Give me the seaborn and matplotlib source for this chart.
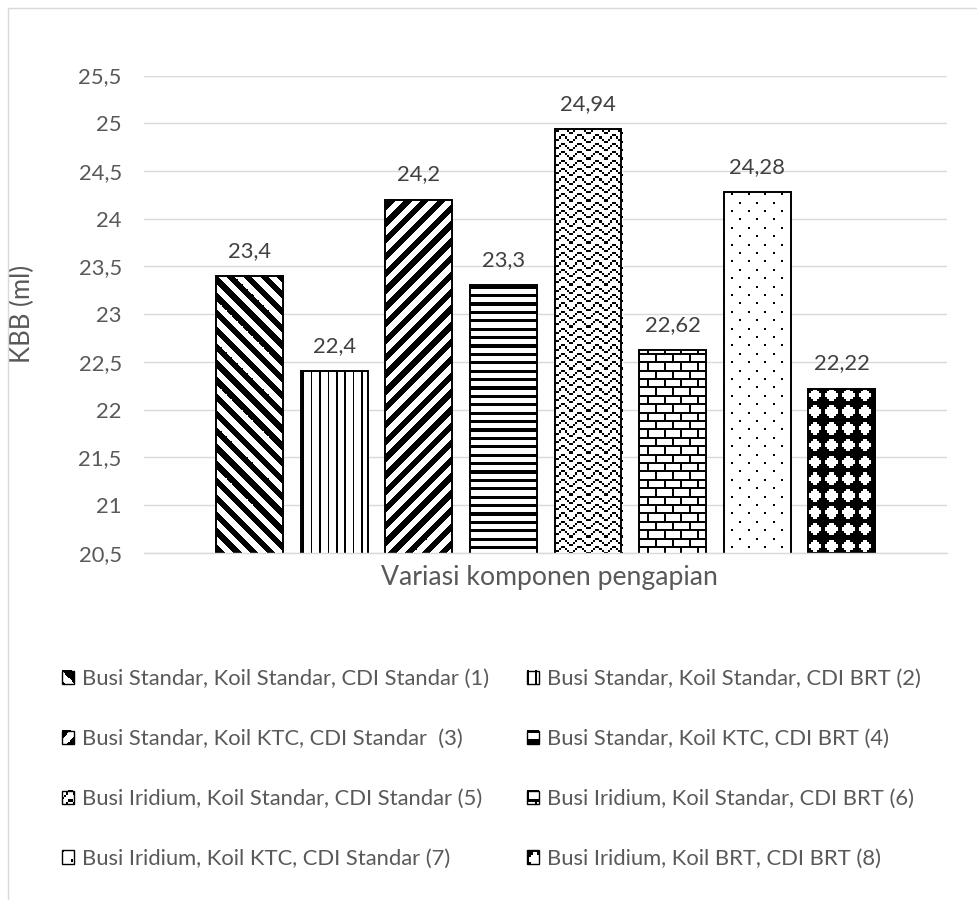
import numpy as np
import pandas as pd
import matplotlib
matplotlib.use("Agg")
import matplotlib.pyplot as plt
import seaborn as sns
from matplotlib.colors import ListedColormap
from matplotlib.patches import Rectangle
from matplotlib.legend_handler import HandlerBase
from matplotlib.image import BboxImage
from matplotlib.transforms import Bbox, TransformedBbox
from matplotlib.ticker import FuncFormatter, FixedLocator

# ---- data -------------------------------------------------------------
labels = [
    "Busi Standar, Koil Standar, CDI Standar (1)",
    "Busi Standar, Koil Standar, CDI BRT (2)",
    "Busi Standar, Koil KTC, CDI Standar  (3)",
    "Busi Standar, Koil KTC, CDI BRT (4)",
    "Busi Iridium, Koil Standar, CDI Standar (5)",
    "Busi Iridium, Koil Standar, CDI BRT (6)",
    "Busi Iridium, Koil KTC, CDI Standar (7)",
    "Busi Iridium, Koil BRT, CDI BRT (8)",
]
kbb = [23.4, 22.4, 24.2, 23.3, 24.94, 22.62, 24.28, 22.22]
y_ticks = [20.5, 21, 21.5, 22, 22.5, 23, 23.5, 24, 24.5, 25, 25.5]
x_title = "Variasi komponen pengapian"
y_title = "KBB (ml)"

# ---- style ------------------------------------------------------------
sns.set_style("white")
plt.rcParams["font.family"] = ["Lato", "DejaVu Sans"]
TEXT = "#595959"
GRID = "#d9d9d9"
FS = 15.8

W, H, DPI = 977, 900, 100
fig = plt.figure(figsize=(W / DPI, H / DPI), dpi=DPI)
ax = fig.add_axes([144 / W, 1 - 552.7 / H, (947 - 144) / W, (552.7 - 75.5) / H])

df = pd.DataFrame({"kombinasi": labels, "kbb": kbb})
sns.barplot(data=df, x="kombinasi", y="kbb", order=labels, width=0.789,
            color="white", saturation=1, edgecolor="black", linewidth=1.4,
            ax=ax)

ax.set_xlim(-1.25, 8.245)
ax.set_ylim(y_ticks[0], y_ticks[-1])
ax.yaxis.set_major_locator(FixedLocator(y_ticks))
ax.yaxis.set_major_formatter(FuncFormatter(lambda v, _: f"{v:g}".replace(".", ",")))
ax.set_xticks([])
ax.grid(axis="y", color=GRID, linewidth=1.0)
ax.set_axisbelow(True)
for side in ["left", "right", "top"]:
    ax.spines[side].set_visible(False)
ax.spines["bottom"].set_color(GRID)
ax.spines["bottom"].set_linewidth(1.0)
ax.tick_params(axis="y", length=0, pad=16, labelsize=FS, labelcolor=TEXT)

ax.set_xlabel(x_title, fontsize=19.2, color=TEXT)
ax.set_ylabel(y_title, fontsize=18.5, color=TEXT)
ax.xaxis.label.set_va("center")
ax.yaxis.label.set_va("center")
ax.xaxis.set_label_coords(0.505, -(577 - 552.7) / (552.7 - 75.5))
ax.yaxis.set_label_coords(-(144 - 22) / (947 - 144), 0.5)

# ---- pattern fills ----------------------------------------------------
CELL = 2.1  # screen pixels per pattern cell


def _tile(rows):
    return np.array([[ch == "1" for ch in r] for r in rows], dtype=bool)


TILES = {
    "zigzag": _tile(["00011000", "00100100", "01000010", "10000001"]),
    "brick": _tile(["11111111", "10000000", "10000000", "10000000",
                    "11111111", "00001000", "00001000", "00001000"]),
    "dots": _tile(["10000000", "00000000", "00000000", "00000000",
                   "00001000", "00000000", "00000000", "00000000"]),
    "diamond": _tile(["11111111", "11100111", "11000011", "10000001",
                      "10000001", "11000011", "11100111", "11111111"]),
}
KINDS = ["down", "vert", "up", "horz", "zigzag", "brick", "dots", "diamond"]
BW = ListedColormap(["white", "black"])


def pattern_mask(kind, u, v):
    if kind == "down":
        return ((u - v) % 8) < 4
    if kind == "up":
        return ((u + v) % 8) < 4
    if kind == "vert":
        return (u % 4) < 0.75
    if kind == "horz":
        return (v % 4) < 1.5
    t = TILES[kind]
    return t[np.floor(v).astype(int) % t.shape[0], np.floor(u).astype(int) % t.shape[1]]


def pixel_pattern(kind, px0, px1, top, bottom):
    """Pattern for a pixel window given in screen coords (y downward)."""
    xs = np.arange(px0, px1) + 0.5
    ys = np.arange(top, bottom) + 0.5
    u = np.broadcast_to(xs[None, :] / CELL, (len(ys), len(xs)))
    v = np.broadcast_to(ys[:, None] / CELL, (len(ys), len(xs)))
    return pattern_mask(kind, u, v).astype(float)


bars = list(ax.containers[0])
inv = ax.transData.inverted()
axbb = ax.get_window_extent()
for patch, kind in zip(bars, KINDS):
    bb = Bbox.intersection(patch.get_window_extent(), axbb)
    px0, px1 = int(np.floor(bb.x0)), int(np.ceil(bb.x1))
    py0, py1 = int(np.floor(bb.y0)), int(np.ceil(bb.y1))
    arr = pixel_pattern(kind, px0, px1, H - py1, H - py0)
    (dx0, dy0), (dx1, dy1) = inv.transform([(px0, py0), (px1, py1)])
    im = ax.imshow(arr, cmap=BW, vmin=0, vmax=1, extent=(dx0, dx1, dy0, dy1),
                   origin="upper", interpolation="nearest", aspect="auto",
                   zorder=1.8)
    im.set_clip_path(patch)
    im.set_clip_box(ax.bbox)
    patch.set_facecolor((1, 1, 1, 0))
    patch.set_zorder(2)

ax.set_xlim(-1.25, 8.245)
ax.set_ylim(y_ticks[0], y_ticks[-1])

ax.bar_label(ax.containers[0], labels=[f"{v:g}".replace(".", ",") for v in kbb],
             padding=11, fontsize=FS, color="#404040")


# ---- legend -----------------------------------------------------------
class PatternSwatch(HandlerBase):
    def __init__(self, kind):
        super().__init__()
        self.kind = kind

    def create_artists(self, legend, orig_handle, xdescent, ydescent,
                       width, height, fontsize, trans):
        x0, y0 = -xdescent, -ydescent
        arr = pixel_pattern(self.kind, 0, 12, 0, 12)
        img = BboxImage(TransformedBbox(Bbox.from_bounds(x0, y0, width, height), trans),
                        cmap=BW, norm=plt.Normalize(0, 1), interpolation="nearest")
        img.set_data(arr)
        frame = Rectangle((x0, y0), width, height, fill=False,
                          edgecolor="black", linewidth=1.0, transform=trans)
        return [img, frame]


side_pt = 12 * 72 / DPI
for col, x_px in ((0, 62), (1, 527)):
    idx = list(range(col, 8, 2))
    handles = [bars[i] for i in idx]
    leg = fig.legend(handles, [labels[i] for i in idx],
                     handler_map={bars[i]: PatternSwatch(KINDS[i]) for i in idx},
                     loc="upper left", bbox_to_anchor=(x_px / W, 1 - 669 / H),
                     frameon=False, borderpad=0, borderaxespad=0,
                     fontsize=FS, labelcolor=TEXT,
                     handlelength=side_pt / FS, handleheight=side_pt / FS,
                     handletextpad=8 * 72 / DPI / FS, labelspacing=1.82)

# chart area outline
fig.patches.append(Rectangle((8 / W, -0.05), 1.2, 1.05 - 8 / H, transform=fig.transFigure,
                             fill=False, edgecolor=GRID, linewidth=1.0))

fig.savefig("out.png", dpi=DPI)
